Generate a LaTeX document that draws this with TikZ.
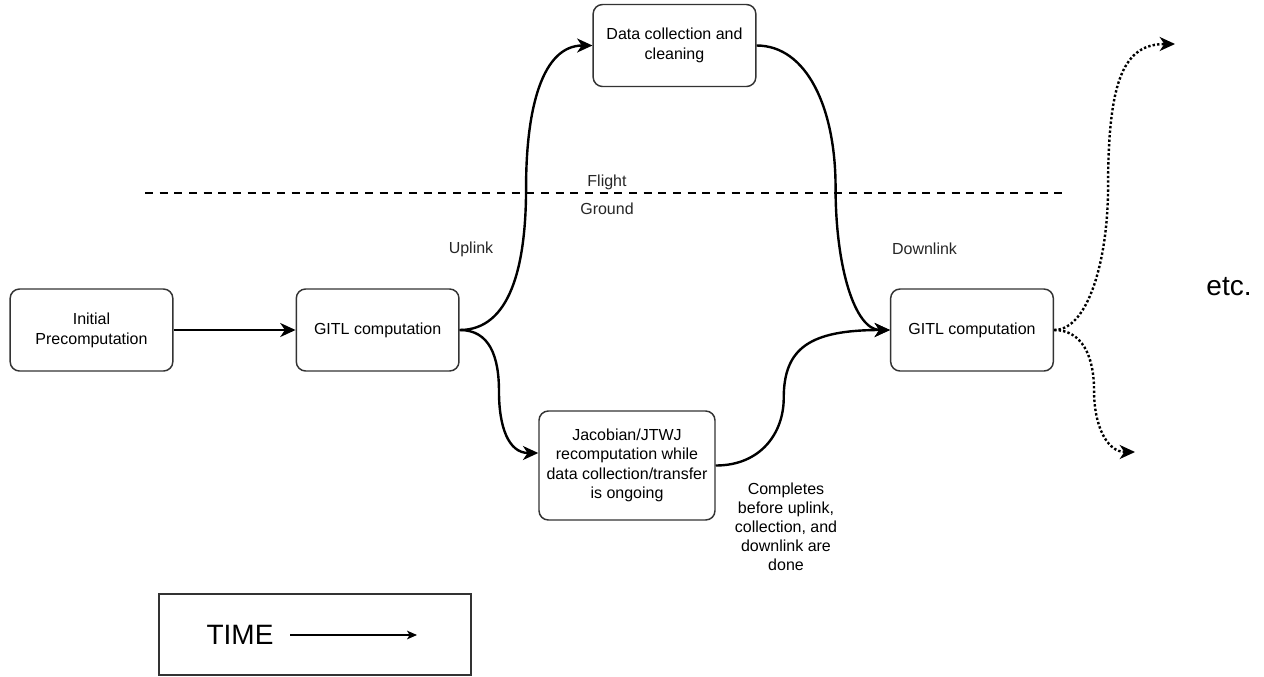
\documentclass[tikz,border=0pt]{standalone}
\usepackage{fontspec}
\setmainfont{Liberation Sans}
\usetikzlibrary{positioning, arrows.meta, calc}

\begin{document}
\begin{tikzpicture}[
  x=0.75pt, y=-0.75pt,
  node distance=91.5pt,
  stage/.style={rectangle, rounded corners=7pt, draw=black!80, line width=1.1pt, align=center, inner sep=2pt, minimum width=122pt, minimum height=61.5pt, font=\fontsize{12}{15}\selectfont},
  note/.style={font=\fontsize{12}{14.25}\selectfont, text=black!85, align=center},
  big/.style={font=\fontsize{21}{25}\selectfont},
  flow/.style={-{Stealth[length=11.5pt,width=10.5pt,inset=3.5pt]}, line width=1.8pt},
  later/.style={flow, dash pattern=on 1.8pt off 1.6pt},
  divider/.style={line width=1.8pt, dash pattern=on 6pt off 5pt}
]
\useasboundingbox (0,0) rectangle (1264,676);

\node[stage] (init) at (91.5,330) {Initial\\Precomputation};
\node[stage, right=of init] (gitlA) {GITL computation};
\node[stage] (collect) at (674.5,45.5) {Data collection and\\cleaning};
\node[stage, minimum width=132pt, minimum height=81.75pt, font=\fontsize{12}{14.6}\selectfont] (jacob) at (627,465.5) {Jacobian/JTWJ\\recomputation while\\data collection/transfer\\is ongoing};
\node[stage] (gitlB) at (972,330) {GITL computation};

\node[note] (flight) at (607,182) {Flight};
\node[note] (ground) at (607,209) {Ground};
\node[note] (uplink) at (471,249) {Uplink};
\node[note] (downlink) at (924.5,249) {Downlink};
\node[note, text=black] (completes) at (786,527) {Completes\\before uplink,\\collection, and\\downlink are\\done};
\node[big] (etc) at (1229,287) {etc.};

% flight / ground boundary
\coordinate (lineL) at (145,193);
\coordinate (lineR) at (1065,193);
\draw[divider] (lineL) -- (lineR);

\draw[flow] (init) -- (gitlA);
\draw[flow] (gitlA.east) .. controls +(50,0) and +(0,80) .. ($(gitlA.east)!0.5!(collect.west)$) .. controls +(0,-80) and +(-50,0) .. (collect.west);
\coordinate (jacobin) at ($(jacob.west)+(0,-12.5)$);
\draw[flow] (gitlA.east) .. controls +(30,0) and +(0,-35) .. ($(gitlA.east)!0.5!(jacobin)$) .. controls +(0,35) and +(-30,0) .. (jacobin);
\draw[flow] (collect.east) .. controls +(50,0) and +(0,-80) .. ($(collect.east)+(79,142)$) .. controls +(0,80) and +(-35,0) .. (gitlB.west);
\draw[flow] (jacob.east) .. controls +(45,0) and +(0,35) .. ($(jacob.east)+(68,-67.5)$) .. controls +(0,-50) and +(-80,0) .. (gitlB.west);

% next iterations
\coordinate (nextup) at (1175,44);
\coordinate (nextdown) at (1135,452);
\draw[later] (gitlB.east) .. controls +(35,0) and +(0,70) .. ($(gitlB.east)+(54,-143)$) .. controls +(0,-110) and +(-50,0) .. (nextup);
\draw[later] (gitlB.east) .. controls +(28,0) and +(0,-35) .. ($(gitlB.east)+(40,61)$) .. controls +(0,35) and +(-28,0) .. (nextdown);

% legend
\node[draw=black!80, line width=1.1pt, minimum width=234pt, minimum height=60.75pt] (legend) at (315,634.5) {};
\node[big] (time) at (240,635) {TIME};
\coordinate (timeend) at (417,635);
\draw[-{Stealth[length=7.5pt,width=6.5pt,inset=2pt]}, line width=0.9pt] ([xshift=9pt]time.east) -- (timeend);
\end{tikzpicture}
\end{document}
